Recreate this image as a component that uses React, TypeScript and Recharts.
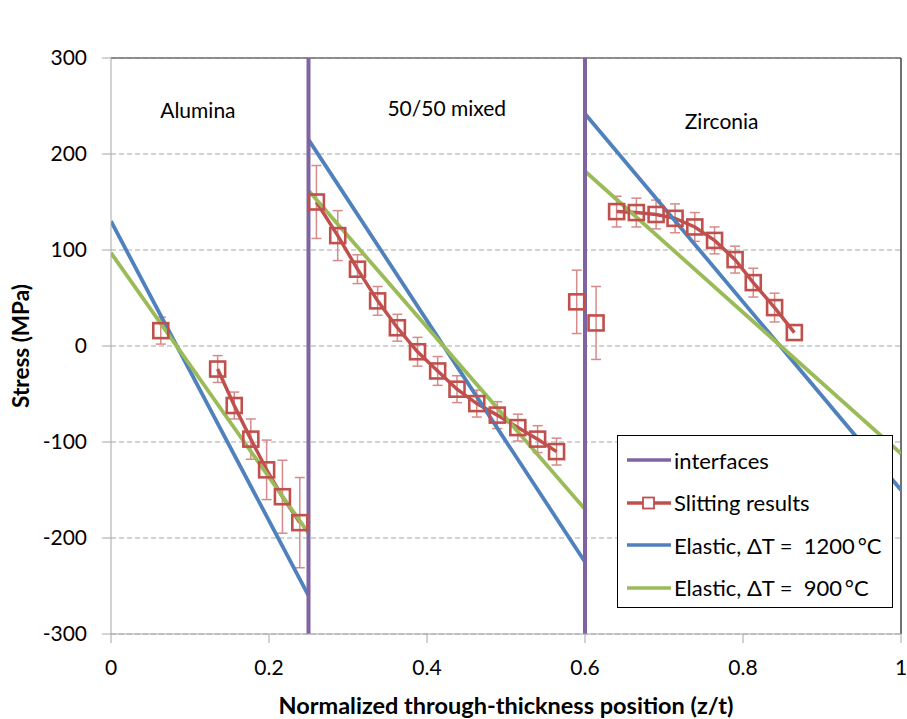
import React from "react";
import {
  LineChart,
  Line,
  XAxis,
  YAxis,
  CartesianGrid,
  ReferenceLine,
  ReferenceDot,
  ErrorBar,
  Legend,
} from "recharts";

// ---------- data ----------
const xTicks = [0, 0.2, 0.4, 0.6, 0.8, 1];
const yTicks = [-300, -200, -100, 0, 100, 200, 300];

const interfaces = [0.25, 0.6];

// Slitting results (connected groups)
const aluminaX = [0.135, 0.156, 0.177, 0.197, 0.217, 0.239];
const aluminaStress = [-24, -62, -97, -129, -157, -184];
const aluminaErr = [14, 14, 21, 31, 38, 47];

const mixedX = [0.26, 0.287, 0.312, 0.3375, 0.3625, 0.388, 0.4135, 0.438, 0.463, 0.489, 0.515, 0.54, 0.564];
const mixedStress = [150, 115, 80, 47, 19, -6, -26, -45, -60, -72, -85, -97, -110];
const mixedErr = [38, 26, 15, 15, 14, 15, 15, 14, 14, 14, 14, 14, 14];

const zircX = [0.64, 0.665, 0.69, 0.714, 0.739, 0.764, 0.79, 0.813, 0.84, 0.865];
const zircStress = [140, 139, 137, 133, 124, 110, 90, 66, 40, 14];
const zircErr = [16, 15, 15, 15, 15, 14, 14, 15, 15, 0];

// Slitting results (isolated points)
const isoX = [0.063, 0.5895, 0.614];
const isoStress = [16, 46, 24];
const isoErr = [14, 33, 38];

// Elastic predictions per layer (start/end positions and stresses)
const layerStart = [0, 0.25, 0.6];
const layerEnd = [0.25, 0.6, 1];
const e1200Start = [130, 215, 242];
const e1200End = [-260, -225, -150];
const e900Start = [97, 162, 182];
const e900End = [-195, -170, -112];

const layerNames = ["Alumina", "50/50 mixed", "Zirconia"];
const layerLabelX = [0.11, 0.425, 0.773];
const layerLabelY = [245, 247, 234];

const legendNames = ["interfaces", "Slitting results", "Elastic, \u0394T =  1200\u2009\u00B0C", "Elastic, \u0394T =  900\u2009\u00B0C"];

// ---------- styles ----------
const FONT = "Lato, 'Open Sans', sans-serif";
const PURPLE = "#8064A2";
const RED = "#C0504D";
const BLUE = "#4F81BD";
const GREEN = "#9BBB59";

const build = (xs: number[], ys: number[], es: number[]) =>
  xs.map((x, i) => ({ x, y: ys[i], err: es[i] }));

const aluminaData = build(aluminaX, aluminaStress, aluminaErr);
const mixedData = build(mixedX, mixedStress, mixedErr);
const zircData = build(zircX, zircStress, zircErr);
const isoData = build(isoX, isoStress, isoErr);

const seg = (i: number, s: number[], e: number[]) => [
  { x: layerStart[i], y: s[i] },
  { x: layerEnd[i], y: e[i] },
];

const SquareDot = (props: any) => {
  const { cx, cy, index } = props;
  if (cx == null || cy == null) return <g key={`n${index}`} />;
  return (
    <rect
      key={`sq${index}-${cx}`}
      x={cx - 7.5}
      y={cy - 7.5}
      width={15}
      height={15}
      fill="none"
      stroke={RED}
      strokeWidth={2.6}
    />
  );
};

const LegendSymbol = ({ color, square }: { color: string; square?: boolean }) => (
  <svg width={44} height={14} style={{ display: "block", flex: "none" }}>
    <line x1={0} y1={7} x2={44} y2={7} stroke={color} strokeWidth={3.5} />
    {square && <rect x={16} y={1.5} width={11} height={11} fill="#fff" stroke={color} strokeWidth={1.8} />}
  </svg>
);

const renderLegend = () => {
  const colors = [PURPLE, RED, BLUE, GREEN];
  return (
    <div
      style={{
        width: 276,
        height: 173,
        border: "1px solid #000",
        background: "#fff",
        boxSizing: "border-box",
        paddingTop: 3,
        fontFamily: FONT,
        fontSize: 22,
        color: "#000",
      }}
    >
      {legendNames.map((n, i) => (
        <div key={n} style={{ display: "flex", alignItems: "center", height: 42.5, paddingLeft: 9 }}>
          <LegendSymbol color={colors[i]} square={i === 1} />
          <span style={{ marginLeft: 3, whiteSpace: "pre" }}>{n}</span>
        </div>
      ))}
    </div>
  );
};

export default function App() {
  const elastic = [0, 1, 2];
  return (
    <div style={{ position: "absolute", left: 0, top: 0, width: 907, height: 719, background: "#fff" }}>
      <LineChart
        width={907}
        height={719}
        margin={{ top: 58, right: 6, bottom: 35, left: 0 }}
        style={{ fontFamily: FONT }}
      >
        <CartesianGrid vertical={false} stroke="#a6a6a6" strokeDasharray="5 3" />
        <XAxis
          type="number"
          dataKey="x"
          domain={[0, 1]}
          ticks={xTicks}
          allowDataOverflow
          height={50}
          stroke="#a6a6a6"
          tickSize={9}
          tickMargin={17}
          tick={{ fill: "#000", fontSize: 21, fontFamily: FONT }}
          label={{
            value: "Normalized through-thickness position (z/t)",
            position: "bottom",
            offset: 13,
            style: { fill: "#000", fontSize: 23.5, fontWeight: 700, fontFamily: FONT },
          }}
        />
        <YAxis
          type="number"
          domain={[-300, 300]}
          ticks={yTicks}
          allowDataOverflow
          width={111}
          stroke="#a6a6a6"
          tickSize={9}
          tickMargin={15}
          tick={{ fill: "#000", fontSize: 21, fontFamily: FONT }}
          label={{
            value: "Stress (MPa)",
            angle: -90,
            position: "insideLeft",
            offset: 21,
            style: { fill: "#000", fontSize: 22.5, fontWeight: 700, fontFamily: FONT, textAnchor: "middle" },
          }}
        />
        <ReferenceLine y={300} stroke="#707070" strokeWidth={1.5} />
        <ReferenceLine x={1} stroke="#404040" strokeWidth={1.5} />

        <Line data={aluminaData} dataKey="y" stroke={RED} strokeWidth={3.5} dot={SquareDot} isAnimationActive={false} legendType="none">
          <ErrorBar dataKey="err" direction="y" width={5} stroke="#d58b89" strokeWidth={1.5} />
        </Line>
        <Line data={mixedData} dataKey="y" stroke={RED} strokeWidth={3.5} dot={SquareDot} isAnimationActive={false} legendType="none">
          <ErrorBar dataKey="err" direction="y" width={5} stroke="#d58b89" strokeWidth={1.5} />
        </Line>
        <Line data={zircData} dataKey="y" stroke={RED} strokeWidth={3.5} dot={SquareDot} isAnimationActive={false} legendType="none">
          <ErrorBar dataKey="err" direction="y" width={5} stroke="#d58b89" strokeWidth={1.5} />
        </Line>
        <Line data={isoData} dataKey="y" stroke="none" strokeWidth={0} dot={SquareDot} isAnimationActive={false} legendType="none">
          <ErrorBar dataKey="err" direction="y" width={5} stroke="#d58b89" strokeWidth={1.5} />
        </Line>

        {elastic.map((i) => (
          <Line
            key={`b${i}`}
            data={seg(i, e1200Start, e1200End)}
            dataKey="y"
            stroke={BLUE}
            strokeWidth={3.8}
            dot={false}
            isAnimationActive={false}
            legendType="none"
          />
        ))}
        {elastic.map((i) => (
          <Line
            key={`g${i}`}
            data={seg(i, e900Start, e900End)}
            dataKey="y"
            stroke={GREEN}
            strokeWidth={3.8}
            dot={false}
            isAnimationActive={false}
            legendType="none"
          />
        ))}

        {interfaces.map((x) => (
          <ReferenceLine key={`if${x}`} x={x} stroke={PURPLE} strokeWidth={4} />
        ))}

        {layerNames.map((n, i) => (
          <ReferenceDot
            key={n}
            x={layerLabelX[i]}
            y={layerLabelY[i]}
            r={0}
            fill="none"
            stroke="none"
            label={{ value: n, position: "center", style: { fill: "#000", fontSize: 21, fontFamily: FONT } }}
          />
        ))}

        <Legend
          layout="vertical"
          align="center"
          verticalAlign="middle"
          content={renderLegend}
          wrapperStyle={{ position: "absolute", left: 617, top: 435, width: 276, height: 173, margin: 0 }}
        />
      </LineChart>
    </div>
  );
}
